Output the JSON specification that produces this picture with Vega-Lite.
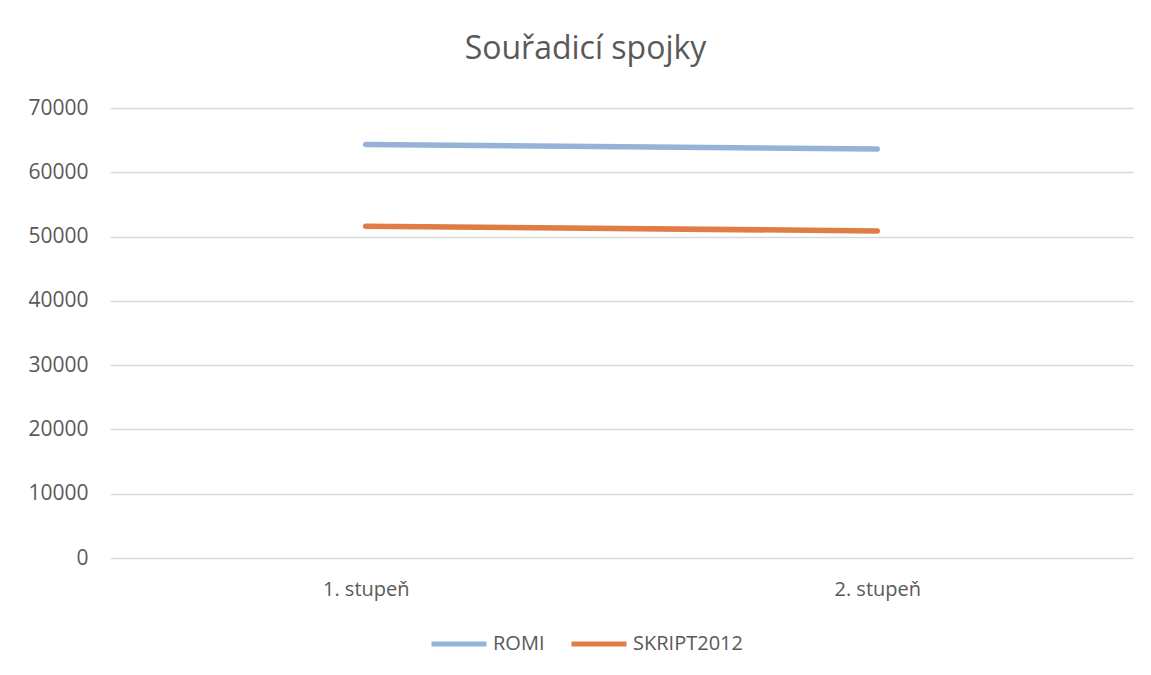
{
  "$schema": "https://vega.github.io/schema/vega-lite/v6.json",
  "autosize": {"type": "none"},
  "padding": {"left": 110, "top": 108, "right": 18, "bottom": 117},
  "width": 1023,
  "height": 450,
  "background": "white",
  "title": {
    "text": "Souřadicí spojky",
    "anchor": "middle",
    "dx": -36,
    "offset": 31,
    "font": "Open Sans",
    "fontSize": 32,
    "fontWeight": "normal",
    "color": "#595959"
  },
  "data": {
    "values": [
      {"stupen": "1. stupeň", "serie": "ROMI", "pocet": 64340},
      {"stupen": "2. stupeň", "serie": "ROMI", "pocet": 63610},
      {"stupen": "1. stupeň", "serie": "SKRIPT2012", "pocet": 51610},
      {"stupen": "2. stupeň", "serie": "SKRIPT2012", "pocet": 50880}
    ]
  },
  "mark": {"type": "line", "strokeWidth": 5.5, "strokeCap": "round"},
  "encoding": {
    "x": {
      "field": "stupen",
      "type": "nominal",
      "scale": {"type": "point", "padding": 0.5},
      "axis": {
        "title": null,
        "labelAngle": 0,
        "labelFont": "Open Sans",
        "labelFontSize": 20,
        "labelColor": "#595959",
        "labelPadding": 21,
        "domain": false,
        "ticks": false,
        "grid": false
      }
    },
    "y": {
      "field": "pocet",
      "type": "quantitative",
      "scale": {"domain": [0, 70000]},
      "axis": {
        "title": null,
        "values": [0, 10000, 20000, 30000, 40000, 50000, 60000, 70000],
        "format": "d",
        "labelFont": "Open Sans",
        "labelFontSize": 21,
        "labelColor": "#595959",
        "labelPadding": 22,
        "domain": false,
        "ticks": false,
        "gridColor": "#d9d9d9",
        "gridWidth": 1.3
      }
    },
    "color": {
      "field": "serie",
      "type": "nominal",
      "scale": {"domain": ["ROMI", "SKRIPT2012"], "range": ["#95b3d7", "#e07d45"]},
      "legend": {
        "title": null,
        "orient": "none",
        "direction": "horizontal",
        "legendX": 319,
        "legendY": 506,
        "symbolType": "stroke",
        "symbolSize": 3025,
        "symbolStrokeWidth": 5,
        "labelFont": "Open Sans",
        "labelFontSize": 20,
        "labelColor": "#595959",
        "labelOffset": 4,
        "columnPadding": 16
      }
    }
  },
  "config": {"view": {"stroke": null}}
}
